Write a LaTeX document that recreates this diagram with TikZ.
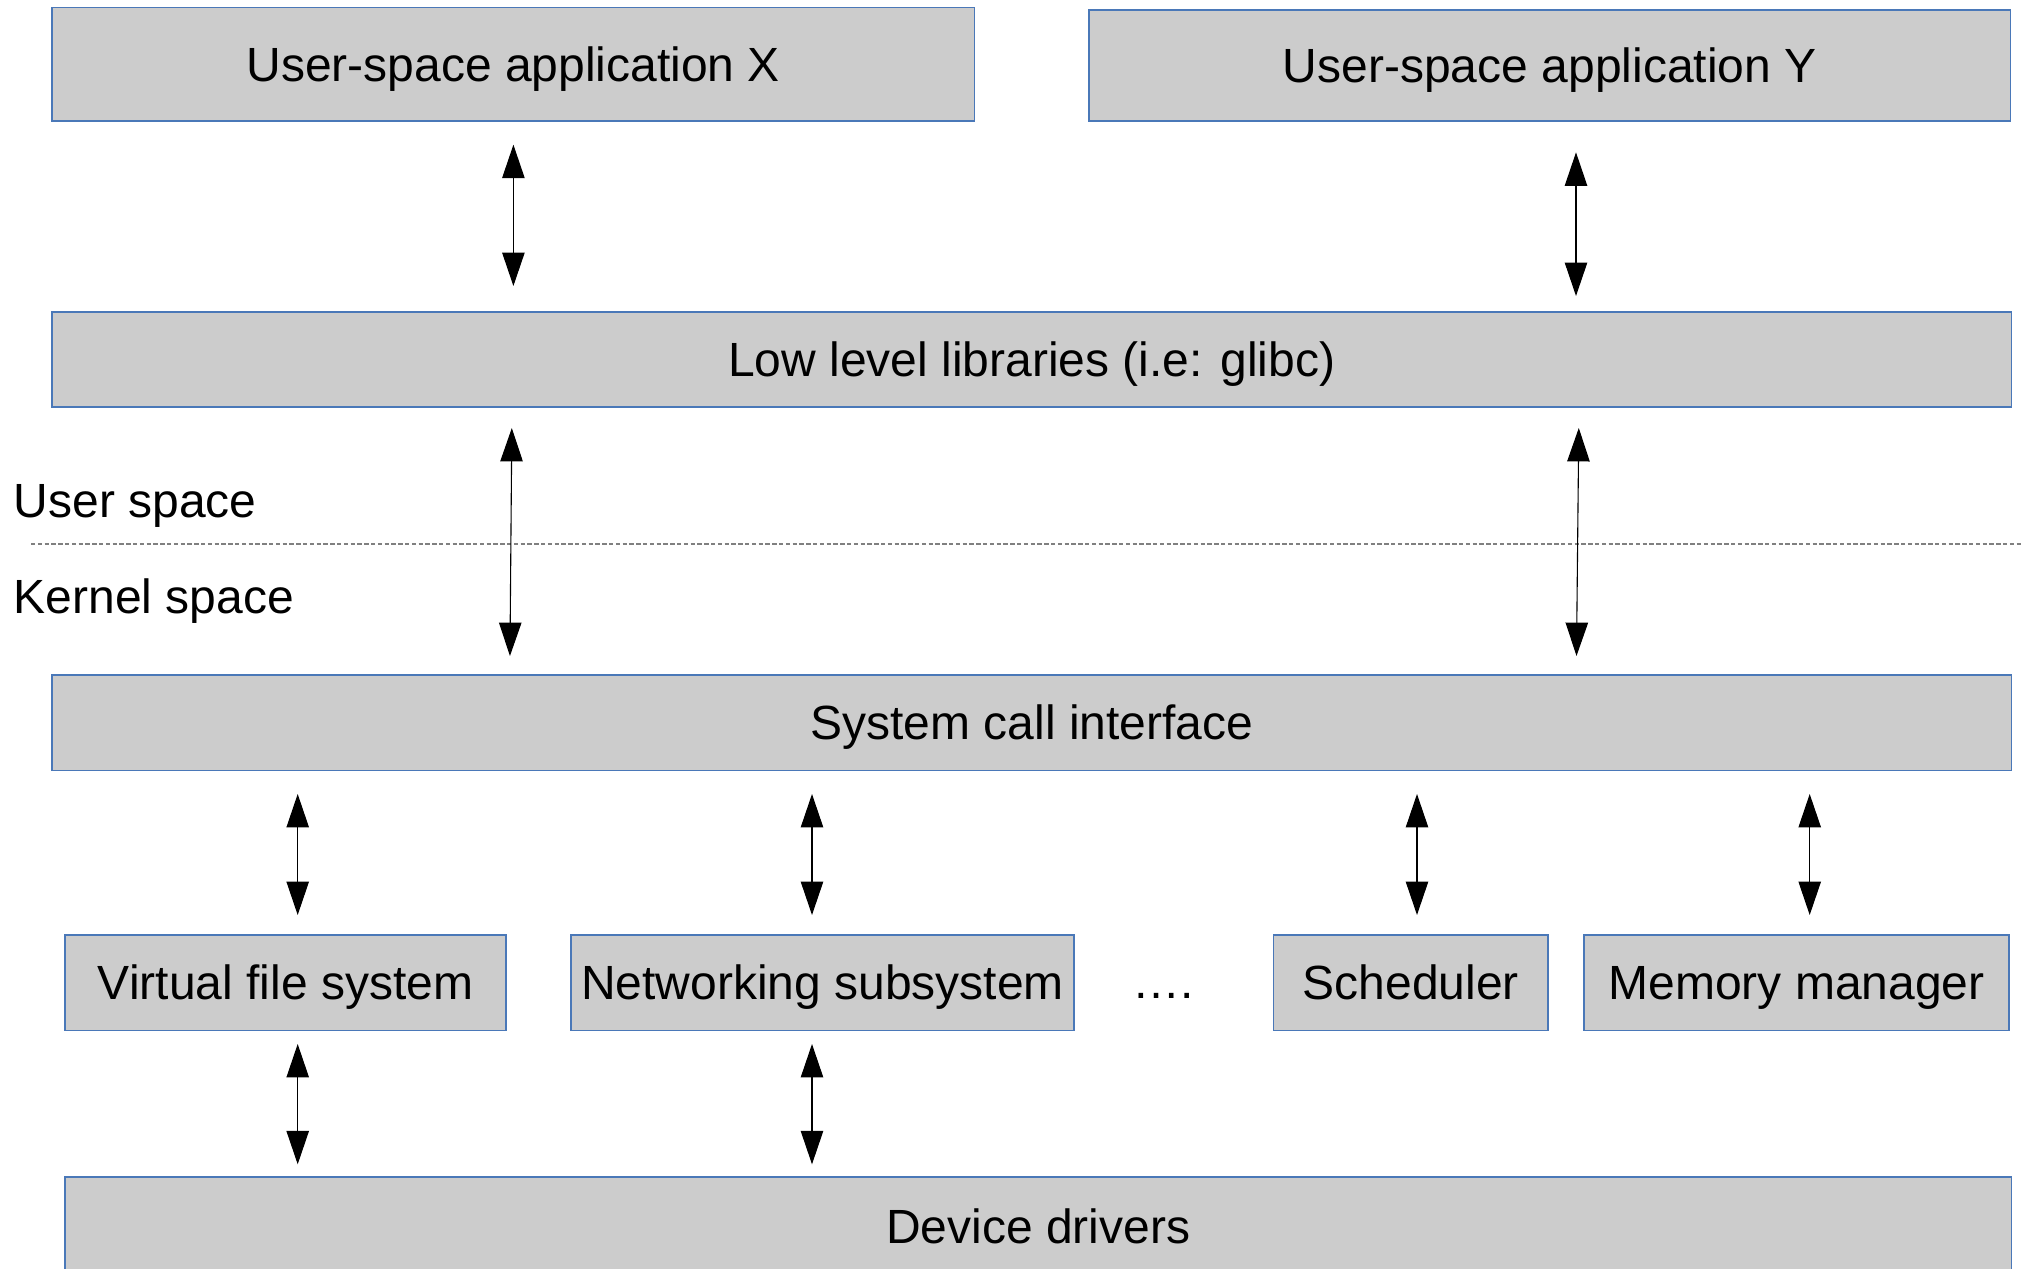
\documentclass[tikz,border=0pt]{standalone}
\usepackage{fontspec}
\setmainfont{Liberation Sans}
\usetikzlibrary{arrows.meta}
\definecolor{boxfill}{HTML}{CCCCCC}
\definecolor{boxline}{HTML}{4A78B8}
\definecolor{dashgray}{HTML}{808080}
\tikzset{
  layer/.style={draw=boxline, fill=boxfill, line width=0.7pt, inner sep=0pt,
    text height=17.2pt, text depth=0pt, font=\fontsize{24pt}{28pt}\selectfont},
  lbl/.style={inner sep=0pt, anchor=base west, font=\fontsize{24pt}{28pt}\selectfont},
  biarrow/.style={line width=0.55pt,
    {Triangle[length=16.7pt,width=11.2pt]}-{Triangle[length=16.7pt,width=11.2pt]}},
  sepline/.style={draw=dashgray, line width=0.7pt, dash pattern=on 2.2pt off 1.2pt}
}
\begin{document}
\begin{tikzpicture}[x=0.5pt,y=-0.5pt]
\path[use as bounding box, clip] (0,0) rectangle (2031,1269);
\fill[white] (0,0) rectangle (2031,1269);

% boxes
\node[layer, minimum width=461.25pt, minimum height=56.75pt] (appX) at (513.25,64.25) {User-space application X};
\node[layer, minimum width=460.75pt, minimum height=55.5pt] (appY) at (1549.75,65.5) {User-space application Y};
\node[layer, minimum width=979.75pt, minimum height=47.5pt] (low) at (1031.75,359.5) {Low level libraries (i.e: glibc)};
\node[layer, minimum width=979.75pt, minimum height=47.75pt] (sys) at (1031.75,722.75) {System call interface};
\node[layer, minimum width=220.5pt, minimum height=47.75pt] (vfs) at (285.5,982.75) {Virtual file system};
\node[layer, minimum width=251.5pt, minimum height=47.75pt] (net) at (822.5,982.75) {Networking subsystem};
\node[layer, minimum width=137.25pt, minimum height=47.75pt] (sched) at (1410.75,982.75) {Scheduler};
\node[layer, minimum width=212.5pt, minimum height=47.75pt] (mem) at (1796.5,982.75) {Memory manager};
\node[layer, minimum width=973.25pt, minimum height=49pt] (dev) at (1038.25,1226) {Device drivers};

% labels
\node[lbl] (userlbl) at (13.5,517.3) {User space};
\node[lbl] (kernlbl) at (13.5,613) {Kernel space};
\node[lbl] (dots) at (1131.6,998) {….};

% separator
\coordinate (sepL) at (31,544);
\coordinate (sepR) at (2023,544);
\draw[sepline] (sepL) -- (sepR);

% x positions of connectors
\coordinate (xa) at (513.4,0);
\coordinate (xb) at (1576,0);
\coordinate (xc1) at (512,0);
\coordinate (xc2) at (509.8,0);
\coordinate (xd1) at (1579,0);
\coordinate (xd2) at (1576.3,0);
\coordinate (xv) at (297.7,0);
\coordinate (xn) at (812,0);
\coordinate (xs) at (1417,0);
\coordinate (xm) at (1809.7,0);

% connectors
\draw[biarrow, shorten <=11.5pt, shorten >=12.65pt] (appX.south -| xa) -- (low.north -| xa);
\draw[biarrow, shorten <=15.35pt, shorten >=7.65pt] (appY.south -| xb) -- (low.north -| xb);
\draw[biarrow, shorten <=10.15pt, shorten >=9.15pt] (low.south -| xc1) -- (sys.north -| xc2);
\draw[biarrow, shorten <=10.15pt, shorten >=9.15pt] (low.south -| xd1) -- (sys.north -| xd2);
\draw[biarrow, shorten <=11.4pt, shorten >=9.65pt] (sys.south -| xv) -- (vfs.north -| xv);
\draw[biarrow, shorten <=11.4pt, shorten >=9.65pt] (sys.south -| xn) -- (net.north -| xn);
\draw[biarrow, shorten <=11.4pt, shorten >=9.65pt] (sys.south -| xs) -- (sched.north -| xs);
\draw[biarrow, shorten <=11.4pt, shorten >=9.65pt] (sys.south -| xm) -- (mem.north -| xm);
\draw[biarrow, shorten <=6.4pt, shorten >=6pt] (vfs.south -| xv) -- (dev.north -| xv);
\draw[biarrow, shorten <=6.4pt, shorten >=6pt] (net.south -| xn) -- (dev.north -| xn);
\end{tikzpicture}
\end{document}
